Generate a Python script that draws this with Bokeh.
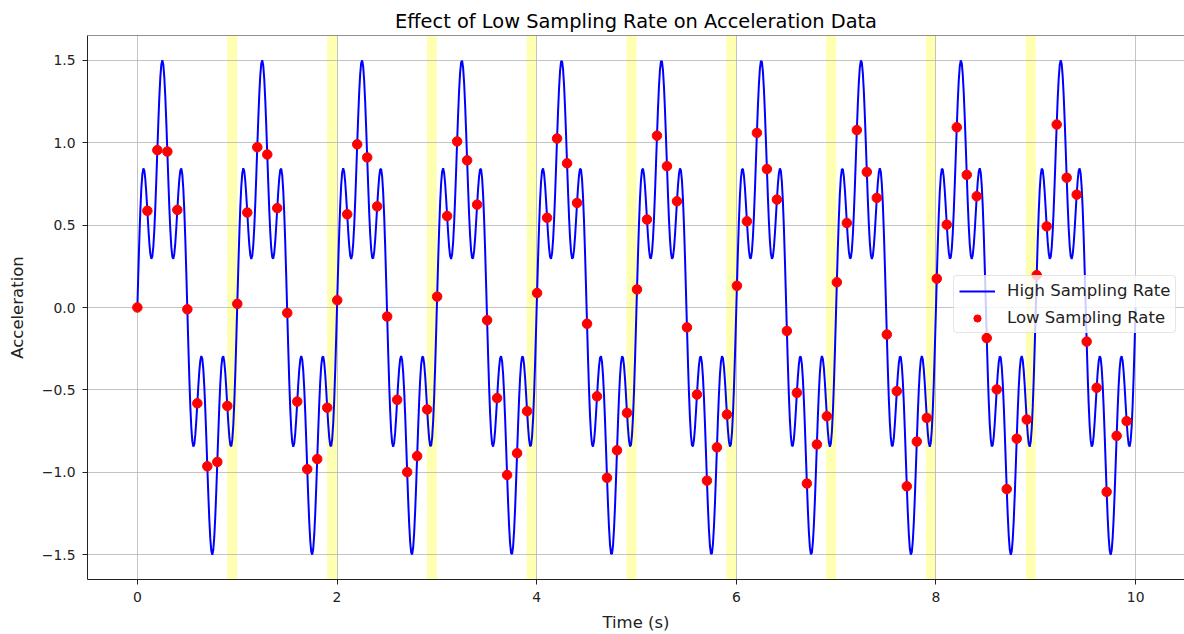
import numpy as np
from bokeh.plotting import figure
from bokeh.models import Range1d, FixedTicker, Legend, LegendItem, BoxAnnotation, Span
from bokeh.embed import file_html
from bokeh.resources import INLINE

# ---- data ----
duration_s = 10.0
n_high_samples = 1000          # dense "high sampling rate" grid
low_rate_step = 10             # every 10th sample kept for "low sampling rate"
component_freqs_hz = [1.0, 5.0]
component_amps = [1.0, 0.5]
highlight_ends = [1, 2, 3, 4, 5, 6, 7, 8, 9]
highlight_width = 0.1
x_ticks = [0, 2, 4, 6, 8, 10]
y_ticks = [-1.5, -1.0, -0.5, 0.0, 0.5, 1.0, 1.5]
y_tick_labels = ["\u22121.5", "\u22121.0", "\u22120.5", "0.0", "0.5", "1.0", "1.5"]

t_high = np.linspace(0, duration_s, n_high_samples)
acc_high = np.zeros_like(t_high)
for f, a in zip(component_freqs_hz, component_amps):
    acc_high = acc_high + a * np.sin(2 * np.pi * f * t_high)
t_low = t_high[::low_rate_step]
acc_low = acc_high[::low_rate_step]

FONT = "DejaVu Sans"

p = figure(width=1184, height=634, output_backend="svg", toolbar_location=None,
           x_range=Range1d(-0.4995, 10.4895), y_range=Range1d(-1.65, 1.65),
           min_border_left=87, min_border_right=0, min_border_top=35, min_border_bottom=55)
p.outline_line_color = None
p.background_fill_color = "white"

p.title.text = "Effect of Low Sampling Rate on Acceleration Data"
p.title.align = "center"
p.title.text_font = FONT
p.title.text_font_size = "19.4px"
p.title.text_font_style = "normal"
p.title.text_color = "black"
p.title.standoff = 5

for band_end in highlight_ends:
    p.add_layout(BoxAnnotation(left=band_end - highlight_width, right=band_end,
                               fill_color="yellow", fill_alpha=0.3, line_color=None,
                               level="image"))

p.xgrid.ticker = FixedTicker(ticks=x_ticks)
p.ygrid.ticker = FixedTicker(ticks=y_ticks)
for g in (p.xgrid, p.ygrid):
    g.grid_line_color = "#b0b0b0"
    g.grid_line_width = 1
    g.grid_line_alpha = 0.75

p.xaxis.ticker = FixedTicker(ticks=x_ticks)
p.yaxis.ticker = FixedTicker(ticks=y_ticks)
p.yaxis.major_label_overrides = {v: s for v, s in zip(y_ticks, y_tick_labels)}
p.xaxis.axis_label = "Time (s)"
p.yaxis.axis_label = "Acceleration"
for ax in (p.xaxis, p.yaxis):
    ax.major_label_text_font = FONT
    ax.major_label_text_font_size = "13.9px"
    ax.major_label_text_color = "#222222"
    ax.axis_label_text_font = FONT
    ax.axis_label_text_font_size = "16.5px"
    ax.axis_label_text_font_style = "normal"
    ax.axis_label_text_color = "#222222"
    ax.axis_line_color = "#222222"
    ax.major_tick_line_color = "#222222"
    ax.major_tick_out = 5
    ax.major_tick_in = 0
    ax.minor_tick_line_color = None
p.yaxis.major_label_standoff = 7
p.yaxis.axis_label_standoff = 12
p.xaxis.major_label_standoff = 7
p.xaxis.axis_label_standoff = 8

p.add_layout(Span(location=1.65, dimension="width", line_color="#222222", line_width=1))

line_r = p.line(t_high, acc_high, line_color="blue", line_width=2)
pts_r = p.scatter(t_low, acc_low, size=9.5, fill_color="red", line_color="red")

legend = Legend(items=[LegendItem(label="High Sampling Rate", renderers=[line_r]),
                       LegendItem(label="Low Sampling Rate", renderers=[pts_r])],
                location=(866, 246))
legend.label_text_font = FONT
legend.label_text_font_size = "16.5px"
legend.label_text_color = "#222222"
legend.border_line_color = "#cccccc"
legend.background_fill_alpha = 0.8
legend.border_radius = 4
legend.glyph_width = 36
legend.glyph_height = 18
legend.label_height = 18
legend.spacing = 8
legend.padding = 5
legend.margin = 0
legend.label_standoff = 12
p.add_layout(legend)

open("out.html", "w").write(file_html(p, INLINE))
